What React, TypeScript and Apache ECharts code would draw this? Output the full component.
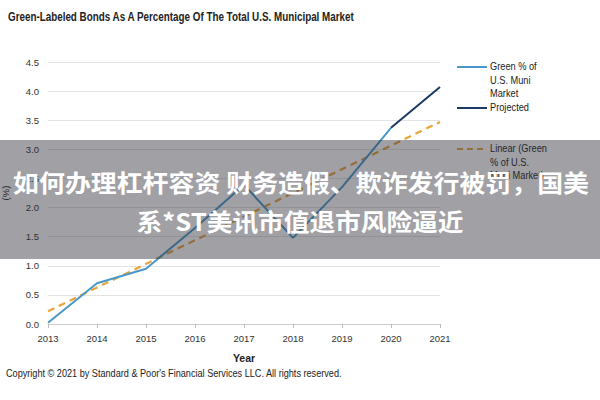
import React, { useEffect, useRef } from "react";
import * as echarts from "echarts";

const years = [2013, 2014, 2015, 2016, 2017, 2018, 2019, 2020];
const greenShare = [0.02, 0.7, 0.95, 1.65, 2.39, 1.48, 2.35, 3.37];
const projectedYears = [2020, 2021];
const projectedShare = [3.37, 4.07];
const trendYears = [2013, 2021];
const trendShare = [0.22, 3.47];

const title = "Green-Labeled Bonds As A Percentage Of The Total U.S. Municipal Market";
const copyright = "Copyright \u00a9 2021 by Standard & Poor's Financial Services LLC. All rights reserved.";
const legendNames = ["Green % of\nU.S. Muni\nMarket", "Projected", "Linear (Green\n% of U.S.\nMuni Market)"];
const overlayLines = ["如何办理杠杆容资 财务造假、欺诈发行被罚，国美", "系*ST美讯市值退市风险逼近"];

const SANS = "'Liberation Sans', Arial, Helvetica, sans-serif";
const CJK = "'Noto Sans CJK SC', 'Noto Sans', sans-serif";

export default function App() {
  const ref = useRef<HTMLDivElement>(null);
  useEffect(() => {
    if (!ref.current) return;
    const chart = echarts.init(ref.current, undefined, { renderer: "svg" });
    const legendText = { fontFamily: SANS, fontSize: 10.5, fill: "#222", lineHeight: 13.5 };
    chart.setOption({
      animation: false,
      backgroundColor: "#ffffff",
      grid: { left: 48, right: 160, top: 62, bottom: 76, containLabel: false, outerBoundsMode: "none" },
      xAxis: {
        type: "value",
        min: 2013,
        max: 2021,
        interval: 1,
        name: "Year",
        nameLocation: "middle",
        nameGap: 28,
        nameTextStyle: { fontFamily: SANS, fontSize: 10.5, fontWeight: "bold", color: "#222" },
        axisLine: { show: true, lineStyle: { color: "#cccccc", width: 1 } },
        axisTick: { show: true, length: 4, lineStyle: { color: "#bbbbbb" } },
        splitLine: { show: false },
        axisLabel: { fontFamily: SANS, fontSize: 9.5, color: "#333", margin: 9, formatter: (v: number) => String(v) },
      },
      yAxis: {
        type: "value",
        min: 0,
        max: 4.5,
        interval: 0.5,
        name: "(%)",
        nameLocation: "middle",
        nameRotate: 90,
        nameGap: 38,
        nameTextStyle: { fontFamily: SANS, fontSize: 9.5, color: "#222" },
        axisLine: { show: false },
        axisTick: { show: false },
        splitLine: { lineStyle: { color: "#e3e3e3", width: 1 } },
        axisLabel: { fontFamily: SANS, fontSize: 9.5, color: "#333", margin: 9, formatter: (v: number) => v.toFixed(1) },
      },
      series: [
        {
          name: "Linear",
          type: "line",
          data: trendYears.map((y, i) => [y, trendShare[i]]),
          symbol: "none",
          lineStyle: { color: "#E9A43A", width: 2.2, type: [7, 5] },
          z: 1,
        },
        {
          name: "Green % of U.S. Muni Market",
          type: "line",
          data: years.map((y, i) => [y, greenShare[i]]),
          symbol: "none",
          lineStyle: { color: "#4A98C9", width: 2 },
          z: 2,
        },
        {
          name: "Projected",
          type: "line",
          data: projectedYears.map((y, i) => [y, projectedShare[i]]),
          symbol: "none",
          lineStyle: { color: "#1C3A63", width: 2 },
          z: 3,
        },
      ],
      graphic: [
        {
          type: "text",
          x: 8,
          y: 11,
          scaleX: 0.82,
          style: { text: title, fontFamily: SANS, fontSize: 12, fontWeight: "bold", fill: "#222" },
        },
        { type: "line", shape: { x1: 457, y1: 67, x2: 487, y2: 67 }, style: { stroke: "#4A98C9", lineWidth: 2 } },
        { type: "text", x: 490, y: 60, scaleX: 0.88, style: { ...legendText, text: legendNames[0] } },
        { type: "line", shape: { x1: 457, y1: 108, x2: 487, y2: 108 }, style: { stroke: "#1C3A63", lineWidth: 2 } },
        { type: "text", x: 490, y: 101, scaleX: 0.88, style: { ...legendText, text: legendNames[1] } },
        { type: "line", shape: { x1: 457, y1: 149, x2: 487, y2: 149 }, style: { stroke: "#E9A43A", lineWidth: 2.2, lineDash: [6, 4] } },
        { type: "text", x: 490, y: 142, scaleX: 0.88, style: { ...legendText, text: legendNames[2] } },
        { type: "text", x: 6, y: 368, scaleX: 0.87, style: { fontFamily: SANS, fontSize: 10.5, fill: "#222", text: copyright } },
        { type: "rect", shape: { x: 0, y: 140, width: 600, height: 119 }, style: { fill: "rgba(45,45,55,0.45)" }, z: 100 },
        {
          type: "text",
          x: 301,
          y: 181,
          z: 101,
          scaleX: 1.08,
          style: { text: overlayLines[0], fontFamily: CJK, fontSize: 24, fontWeight: "bold", fill: "#ffffff", align: "center", verticalAlign: "middle" },
        },
        {
          type: "text",
          x: 300,
          y: 220,
          z: 101,
          scaleX: 1.07,
          style: { text: overlayLines[1], fontFamily: CJK, fontSize: 24, fontWeight: "bold", fill: "#ffffff", align: "center", verticalAlign: "middle" },
        },
      ],
    });
    return () => chart.dispose();
  }, []);
  return <div ref={ref} style={{ width: 600, height: 400, position: "absolute", left: 0, top: 0 }} />;
}
